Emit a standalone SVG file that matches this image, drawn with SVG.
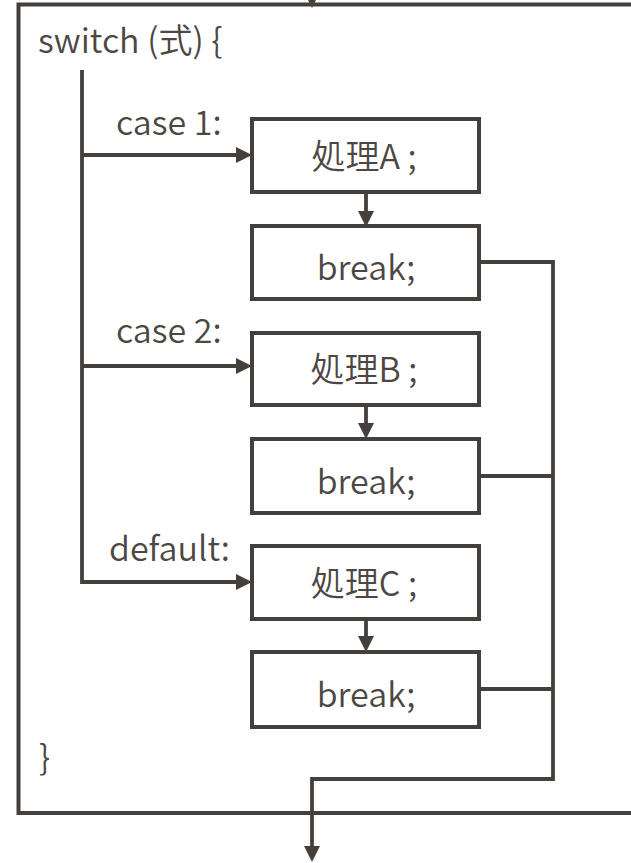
<svg xmlns="http://www.w3.org/2000/svg" width="631" height="863" viewBox="0 0 631 863">
<style>
.ln{fill:none;stroke:#453f3c;stroke-width:3.8}
.box{fill:#ffffff;stroke:#453f3c;stroke-width:4}
.frame{fill:none;stroke:#453f3c;stroke-width:4}
.t{font-family:"Noto Sans CJK JP","Noto Sans",sans-serif;font-size:34px;font-weight:350;fill:#4d4744}
.c{text-anchor:middle}
</style>
<defs>
<marker id="ah" viewBox="0 0 16 16" markerUnits="userSpaceOnUse" markerWidth="16" markerHeight="16" refX="5" refY="8" orient="auto">
<path d="M0,0 L16,8 L0,16 z" fill="#453f3c"/>
</marker>
</defs>
<rect width="631" height="863" fill="#ffffff"/>
<g id="frame">
<path class="frame" d="M700,4.5 H18.5 V813 H700"/>
<text class="t" x="38" y="53">switch (式) {</text>
<text class="t" x="39" y="770">}</text>
</g>
<g id="nodeA">
<rect class="box" x="252" y="119" width="227" height="73"/>
<text class="t c" x="364" y="169">処理A ;</text>
</g>
<g id="break1">
<rect class="box" x="252" y="226" width="227" height="73"/>
<text class="t c" x="366" y="280">break;</text>
</g>
<g id="nodeB">
<rect class="box" x="252" y="333" width="227" height="72"/>
<text class="t c" x="364" y="382">処理B ;</text>
</g>
<g id="break2">
<rect class="box" x="252" y="439" width="227" height="74"/>
<text class="t c" x="366" y="494">break;</text>
</g>
<g id="nodeC">
<rect class="box" x="252" y="546" width="227" height="73"/>
<text class="t c" x="364" y="596">処理C ;</text>
</g>
<g id="break3">
<rect class="box" x="252" y="652" width="227" height="75"/>
<text class="t c" x="366" y="707">break;</text>
</g>
<g id="labels">
<text class="t" x="116" y="135">case 1:</text>
<text class="t" x="116" y="343">case 2:</text>
<text class="t" x="109" y="561">default:</text>
</g>
<g id="connectors">
<path class="ln" d="M312,-20 V-3" marker-end="url(#ah)"/>
<path class="ln" d="M82,70 V582 H241" marker-end="url(#ah)"/>
<path class="ln" d="M82,155 H241" marker-end="url(#ah)"/>
<path class="ln" d="M82,366 H241" marker-end="url(#ah)"/>
<path class="ln" d="M366,193 V216" marker-end="url(#ah)"/>
<path class="ln" d="M366,406 V428" marker-end="url(#ah)"/>
<path class="ln" d="M366,620 V641" marker-end="url(#ah)"/>
<path class="ln" d="M479,262 H553 V779 H312 V851" marker-end="url(#ah)"/>
<path class="ln" d="M479,476 H553"/>
<path class="ln" d="M479,689 H553"/>
</g>
</svg>
